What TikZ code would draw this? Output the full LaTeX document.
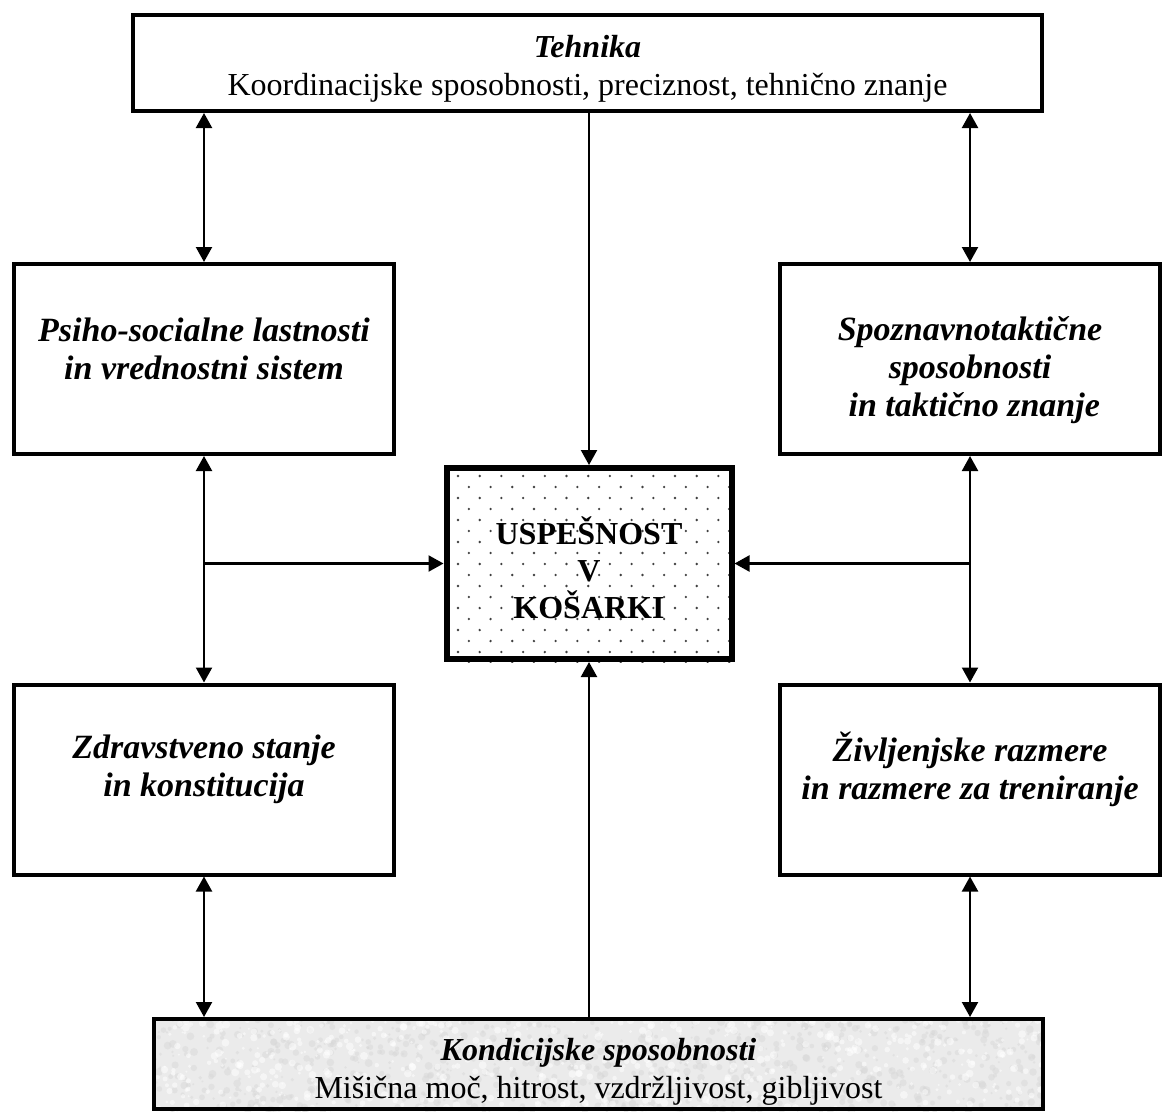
\documentclass[tikz,border=0pt]{standalone}
\usepackage{fontspec}
\setmainfont{Liberation Serif}
\usetikzlibrary{arrows.meta,backgrounds}
\begin{document}
\begin{tikzpicture}[x=0.5pt,y=-0.5pt,
  box/.style={draw,line width=2pt,rectangle,inner sep=0pt},
  cbx/.style={draw,line width=3pt,rectangle,inner sep=0pt},
  txt/.style={align=center,inner sep=0pt,font=\fontsize{16}{19}\selectfont},
  stxt/.style={align=center,inner sep=0pt,font=\fontsize{17}{19}\selectfont\bfseries\itshape},
  ctxt/.style={align=center,inner sep=0pt,font=\fontsize{16}{18.5}\selectfont\bfseries},
  tip/.tip={Triangle[length=7.5pt,width=8pt]},
  arr/.style={line width=1.1pt,-tip},
  dbl/.style={line width=1.1pt,tip-tip},
  ln/.style={line width=1.1pt}]
\useasboundingbox (0,0) rectangle (1165,1113);
% boxes
\node[box,minimum width=454.5pt,minimum height=48pt] (top) at (587.5,63) {};
\node[box,minimum width=190pt,minimum height=95pt] (lu) at (204,359) {};
\node[box,minimum width=190pt,minimum height=95pt] (ru) at (970,359) {};
\node[box,minimum width=190pt,minimum height=95pt] (ll) at (204,779.5) {};
\node[box,minimum width=190pt,minimum height=95pt] (rl) at (970,779.5) {};
\node[cbx,minimum width=142.5pt,minimum height=95.5pt] (cb) at (589,563.5) {};
\node[box,minimum width=444.5pt,minimum height=45pt] (bot) at (598.5,1064) {};
% backgrounds
\begin{scope}[on background layer]
  \begin{scope}
    \clip (cb.south west) rectangle (cb.north east);
    \fill[white] (cb.south west) rectangle (cb.north east);
    \foreach \r in {0,...,17}{
      \foreach \c in {0,...,14}{
        \fill[black!75] ({458+21.7*\c+10.85*mod(\r,2)},{476+11*\r}) circle[radius=1.3];
      }
    }
  \end{scope}
  \begin{scope}
    \clip (bot.south west) rectangle (bot.north east);
    \fill[black!8] (bot.south west) rectangle (bot.north east);
    \pgfmathsetseed{17}
    \foreach \i in {1,...,900}{
      \fill[black!16,opacity=0.45] ({150+900*rnd},{1015+100*rnd}) circle[radius={1+3*rnd}];
    }
    \foreach \i in {1,...,700}{
      \fill[white,opacity=0.5] ({150+900*rnd},{1015+100*rnd}) circle[radius={1+3*rnd}];
    }
  \end{scope}
\end{scope}
% texts
\node[txt] (ttop) at (587.5,69) {\textbf{\textit{Tehnika}}\\Koordinacijske sposobnosti, preciznost, tehnično znanje};
\node[stxt] (tlu) at (204,349) {Psiho-socialne lastnosti\\in vrednostni sistem};
\node[stxt] (tru) at (970,370) {Spoznavnotaktične\\sposobnosti\\\ in taktično znanje};
\node[stxt] (tll) at (204,769) {Zdravstveno stanje\\in konstitucija};
\node[stxt] (trl) at (970,769) {Življenjske razmere\\in razmere za treniranje};
\node[ctxt] (tcb) at (589,568) {USPEŠNOST\\V\\KOŠARKI};
\node[txt] (tbot) at (598.5,1072) {\textbf{\textit{Kondicijske sposobnosti}}\\Mišična moč, hitrost, vzdržljivost, gibljivost};
% connectors
\draw[dbl] (lu.north) -- (lu.north |- top.south);
\draw[dbl] (ru.north) -- (ru.north |- top.south);
\draw[arr] (cb.north |- top.south) -- (cb.north);
\draw[dbl] (lu.south) -- (ll.north);
\draw[dbl] (ru.south) -- (rl.north);
\coordinate (lj) at (lu.south |- cb.west);
\coordinate (rj) at (ru.south |- cb.east);
\draw[arr] (lj) -- (cb.west);
\draw[arr] (rj) -- (cb.east);
\draw[dbl] (ll.south) -- (ll.south |- bot.north);
\draw[dbl] (rl.south) -- (rl.south |- bot.north);
\draw[arr] (cb.south |- bot.north) -- (cb.south);
\end{tikzpicture}
\end{document}
